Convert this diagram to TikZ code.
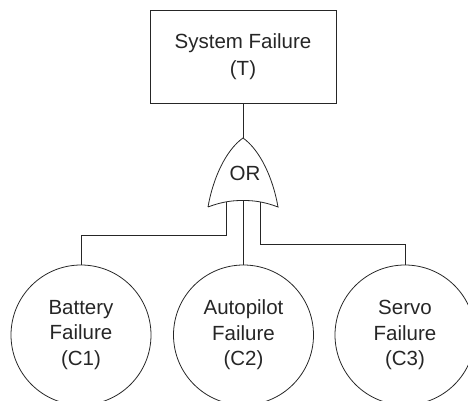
\documentclass[tikz,border=0pt]{standalone}
\usepackage{fontspec}
\setmainfont{Liberation Sans}
\begin{document}
\begin{tikzpicture}[x=1pt,y=-1pt,
  line/.style={draw=black!85, line width=0.8pt},
  eventbox/.style={line, rectangle, minimum width=186pt, minimum height=93pt,
    inner sep=0pt, align=center, font=\fontsize{20.5}{27}\selectfont, text=black!85},
  basic/.style={line, circle, minimum size=140pt, inner sep=0pt, align=center,
    font=\fontsize{20.5}{25.5}\selectfont, text=black!85},
  gatelabel/.style={font=\fontsize{20.5}{24}\selectfont, text=black!85, inner sep=0pt}]
\useasboundingbox (0,0) rectangle (468,401);
\clip (0,0) rectangle (468,401);

% top event
\node[eventbox] (T) at (243,56.5) {System Failure\\(T)};

% OR gate outline
\coordinate (tip) at (243,138);
\coordinate (gl) at (208,207);
\coordinate (gr) at (278,207);
\draw[line] (gl) .. controls (213,178) and (226,150) .. (tip)
  .. controls (260,150) and (273,178) .. (gr)
  .. controls (262,201) and (252,200.5) .. (243,200.5)
  .. controls (234,200.5) and (224,201) .. (gl);
\node[gatelabel] (or) at (245,173) {OR};

% basic events
\node[basic] (C1) at (81,335) {Battery\\Failure\\(C1)};
\node[basic] (C2) at (243.5,335) {Autopilot\\Failure\\(C2)};
\node[basic] (C3) at (405,335) {Servo\\Failure\\(C3)};

% gate input points
\coordinate (inL) at (226,202);
\coordinate (inM) at (243,200.5);
\coordinate (inR) at (260,202);

% connectors
\draw[line] (T.south) -- (tip);
\draw[line] (inL) -- (226,235.5) -| (C1.north);
\draw[line] (inM) -- (inM |- C2.north);
\draw[line] (inR) -- (260,244) -| (C3.north);
\end{tikzpicture}
\end{document}
